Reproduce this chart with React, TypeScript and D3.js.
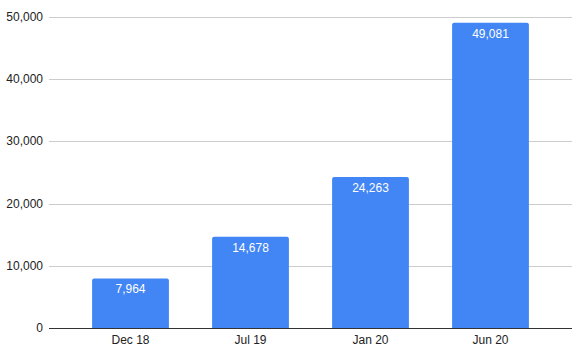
import { useRef, useEffect } from 'react';
import * as d3 from 'd3';

const categories = ['Dec 18', 'Jul 19', 'Jan 20', 'Jun 20'];
const values = [7964, 14678, 24263, 49081];
const yTicks = [0, 10000, 20000, 30000, 40000, 50000];

export default function App() {
  const svgRef = useRef<SVGSVGElement>(null);

  useEffect(() => {
    if (!svgRef.current) return;
    const svg = d3.select(svgRef.current);
    svg.selectAll('*').remove();

    const width = 579;
    const height = 353;
    const gridLeft = 49;
    const gridRight = 572;

    const y = d3.scaleLinear().domain([0, 50000]).range([328, 17]);
    const x = d3.scaleBand<string>().domain(categories).range([70.5, 550.5]).paddingInner(0.36).paddingOuter(0.18);

    const fmt = d3.format(',');

    // gridlines
    svg.append('g')
      .selectAll('line')
      .data(yTicks.slice(1))
      .join('line')
      .attr('x1', gridLeft).attr('x2', gridRight)
      .attr('y1', (d) => Math.round(y(d)) + 0.5).attr('y2', (d) => Math.round(y(d)) + 0.5)
      .attr('stroke', '#cccccc').attr('stroke-width', 1);

    // y labels
    svg.append('g')
      .selectAll('text')
      .data(yTicks)
      .join('text')
      .attr('x', 43)
      .attr('y', (d) => y(d) + 4)
      .attr('text-anchor', 'end')
      .attr('fill', '#222')
      .style('font-size', '12px')
      .style('font-family', 'Arial, "Liberation Sans", sans-serif')
      .text((d) => fmt(d));

    // bars
    svg.append('g')
      .selectAll('path')
      .data(categories)
      .join('path')
      .attr('d', (d, i) => {
        const x0 = x(d)!;
        const w = x.bandwidth();
        const top = y(values[i]);
        const bot = y(0);
        const r = 2;
        return `M${x0},${bot}V${top + r}Q${x0},${top} ${x0 + r},${top}H${x0 + w - r}Q${x0 + w},${top} ${x0 + w},${top + r}V${bot}Z`;
      })
      .attr('fill', '#4285f4');

    // value labels
    svg.append('g')
      .selectAll('text')
      .data(categories)
      .join('text')
      .attr('x', (d) => x(d)! + x.bandwidth() / 2)
      .attr('y', (d, i) => y(values[i]) + 15)
      .attr('text-anchor', 'middle')
      .attr('fill', '#ffffff')
      .style('font-size', '12px')
      .style('font-family', 'Arial, "Liberation Sans", sans-serif')
      .text((d, i) => fmt(values[i]));

    // baseline
    svg.append('line')
      .attr('x1', gridLeft).attr('x2', gridRight)
      .attr('y1', y(0) + 0.5).attr('y2', y(0) + 0.5)
      .attr('stroke', '#333333').attr('stroke-width', 1);

    // x labels
    svg.append('g')
      .selectAll('text')
      .data(categories)
      .join('text')
      .attr('x', (d) => x(d)! + x.bandwidth() / 2)
      .attr('y', 344)
      .attr('text-anchor', 'middle')
      .attr('fill', '#222')
      .style('font-size', '12px')
      .style('font-family', 'Arial, "Liberation Sans", sans-serif')
      .text((d) => d);

    svg.attr('width', width).attr('height', height);
  }, []);

  return (
    <svg
      ref={svgRef}
      width={579}
      height={353}
      style={{ position: 'absolute', left: 0, top: 0, background: '#fff' }}
    />
  );
}
